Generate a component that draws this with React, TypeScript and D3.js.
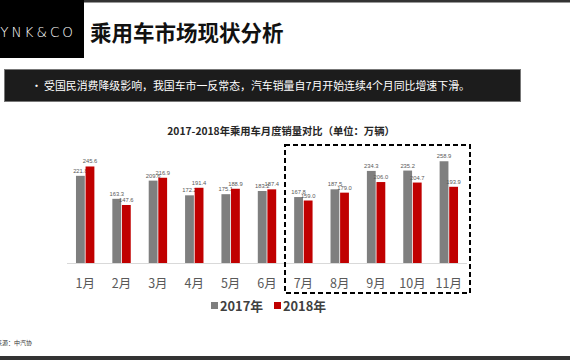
import React from "react";
import * as d3 from "d3";

const months = ["1月", "2月", "3月", "4月", "5月", "6月", "7月", "8月", "9月", "10月", "11月"];
const seriesNames = ["2017年", "2018年"];
const sales2017 = [221.8, 163.3, 209.6, 172.2, 175.1, 183.2, 167.8, 187.5, 234.3, 235.2, 258.9];
const sales2018 = [245.6, 147.6, 216.9, 191.4, 188.9, 187.4, 159.0, 179.0, 206.0, 204.7, 193.9];
const seriesColors = ["#7f7f7f", "#c00000"];

const W = 570;
const H = 360;
const CJK = "'Noto Sans CJK SC', 'Noto Sans', sans-serif";

export default function App() {
  const x0 = d3.scaleBand<string>().domain(months).range([67, 467]).padding(0);
  const bw = x0.bandwidth();
  const x1 = d3
    .scaleBand<string>()
    .domain(seriesNames)
    .range([bw / 2 - 9.2, bw / 2 + 9.2])
    .paddingInner(0.08);
  const y = d3.scaleLinear().domain([0, 300]).range([263, 263 - 300 * 0.393]);
  const data = [sales2017, sales2018];

  return (
    <svg
      width={W}
      height={H}
      style={{ position: "fixed", left: 0, top: 0, background: "#fff" }}
      fontFamily={CJK}
    >
      <rect x={0} y={0} width={W} height={H} fill="#fff" />
      {/* top bar + logo */}
      <rect x={0} y={0} width={W} height={2.5} fill="#333" />
      <rect x={0} y={0} width={84} height={58} fill="#000" />
      <text
        x={76}
        y={37}
        textAnchor="end"
        fill="#fff"
        fontSize={13.5}
        fontFamily="'DejaVu Sans', sans-serif"
        letterSpacing={3}
        fontWeight={300}
      >
        LYNK&amp;CO
      </text>
      <text x={90} y={41} fontSize={21.5} fontWeight={700} fill="#111">
        乘用车市场现状分析
      </text>

      {/* banner */}
      <rect x={4.5} y={69.5} width={516} height={32} fill="#1c1c1c" stroke="#777" strokeWidth={1} />
      <text x={31} y={90} fill="#fff" fontSize={11}>
        •
      </text>
      <text x={44} y={90} fill="#fff" fontSize={10.9}>
        受国民消费降级影响，我国车市一反常态，汽车销量自7月开始连续4个月同比增速下滑。
      </text>

      {/* chart title */}
      <text x={281} y={135} textAnchor="middle" fontSize={10.3} fontWeight={700} fill="#262626">
        2017-2018年乘用车月度销量对比（单位：万辆）
      </text>

      {/* baseline */}
      <line x1={67} x2={467} y1={y(0) + 0.5} y2={y(0) + 0.5} stroke="#d9d9d9" strokeWidth={1} />

      {/* bars */}
      {months.map((m, i) => (
        <g key={m} transform={`translate(${x0(m)},0)`}>
          {seriesNames.map((s, j) => {
            const v = data[j][i];
            const bx = x1(s)!;
            return (
              <g key={s}>
                <rect
                  x={bx}
                  y={y(v)}
                  width={x1.bandwidth()}
                  height={y(0) - y(v)}
                  fill={seriesColors[j]}
                />
                <text
                  x={bx + x1.bandwidth() / 2}
                  y={y(v) - 3}
                  textAnchor="middle"
                  fontSize={5.8}
                  fill="#595959"
                  fontFamily="'Liberation Sans Narrow', 'Liberation Sans', sans-serif"
                >
                  {v.toFixed(1)}
                </text>
              </g>
            );
          })}
          <text
            x={bw / 2}
            y={288}
            textAnchor="middle"
            fontSize={12.5}
            fill="#595959"
          >
            {m}
          </text>
        </g>
      ))}

      {/* dashed highlight box */}
      <rect
        x={285}
        y={145}
        width={185}
        height={148}
        fill="none"
        stroke="#000"
        strokeWidth={2}
        strokeDasharray="5,3"
      />

      {/* legend */}
      {seriesNames.map((s, j) => {
        const lx = 211 + j * 63;
        return (
          <g key={s}>
            <rect x={lx} y={302} width={7} height={7} fill={seriesColors[j]} />
            <text x={lx + 9} y={310.5} fontSize={12.8} fontWeight={700} fill="#404040">
              {s}
            </text>
          </g>
        );
      })}

      {/* source */}
      <text x={-4} y={345} fontSize={6} fill="#333">
        来源：中汽协
      </text>

      {/* bottom bar */}
      <rect x={0} y={356} width={W} height={4} fill="#333" />
    </svg>
  );
}
